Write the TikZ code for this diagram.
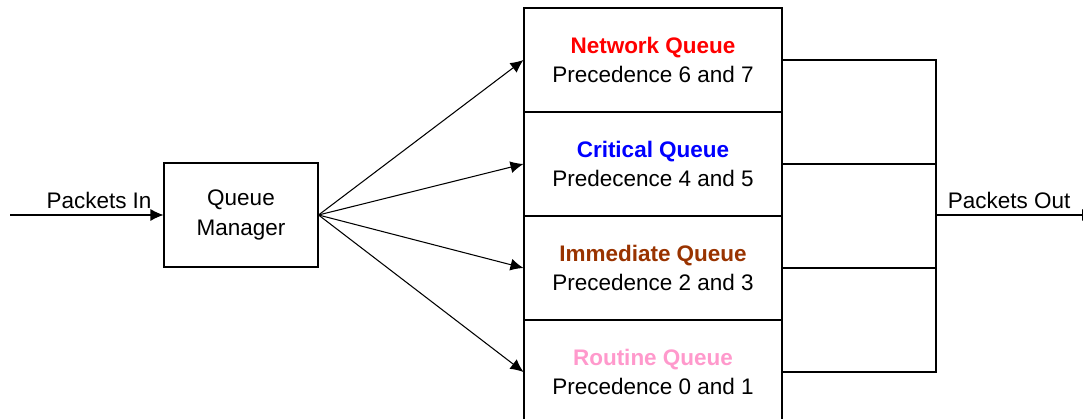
\documentclass[tikz,border=0pt]{standalone}
\usepackage{fontspec}
\setmainfont{Liberation Sans}
\usetikzlibrary{arrows.meta}

\definecolor{netred}{RGB}{255,0,0}
\definecolor{critblue}{RGB}{0,0,255}
\definecolor{immbrown}{RGB}{153,51,0}
\definecolor{routpink}{RGB}{255,153,204}

\tikzset{
    qbox/.style={draw, line width=0.6pt, minimum width=5.16cm, minimum height=2.08cm,
        align=center, inner sep=0pt},
    arr/.style={-{Latex[length=2.6mm,width=2.4mm]}, line width=0.6pt},
    wire/.style={line width=0.6pt}
}

\begin{document}
\begin{tikzpicture}[every node/.style={font=\fontsize{12.8}{16.6}\selectfont}]
        \useasboundingbox (0,0) rectangle (21.66,8.38);
        \node[qbox, minimum width=3.08cm] (qm) at (4.82,4.08) {Queue\\Manager};
        \node[qbox] (nq) at (13.06,7.18)
        {\textcolor{netred}{\textbf{Network Queue}}\\Precedence 6 and 7};
        \node[qbox] (cq) at (13.06,5.10)
        {\textcolor{critblue}{\textbf{Critical Queue}}\\Predecence 4 and 5};
        \node[qbox] (iq) at (13.06,3.02)
        {\textcolor{immbrown}{\textbf{Immediate Queue}}\\Precedence 2 and 3};
        \node[qbox] (rq) at (13.06,0.94)
        {\textcolor{routpink}{\textbf{Routine Queue}}\\Precedence 0 and 1};
        \coordinate (in) at (0.2,4.08);
        \coordinate (jn) at (18.72,4.08);
        \coordinate (out) at (21.9,4.08);
        \draw[arr] (in) -- (qm.west) node[pos=0.58,above] {Packets In};
        \foreach \q in {nq,cq,iq,rq}
            \draw[arr] (qm.east) -- (\q.west);
        \draw[wire] (nq.east) -| (jn);
        \draw[wire] (rq.east) -| (jn);
        \draw[wire] (cq.east) -- (cq.east -| jn);
        \draw[wire] (iq.east) -- (iq.east -| jn);
        \draw[arr] (jn) -- (out) node[pos=0.46,above] {Packets Out};
    \end{tikzpicture}
\end{document}
